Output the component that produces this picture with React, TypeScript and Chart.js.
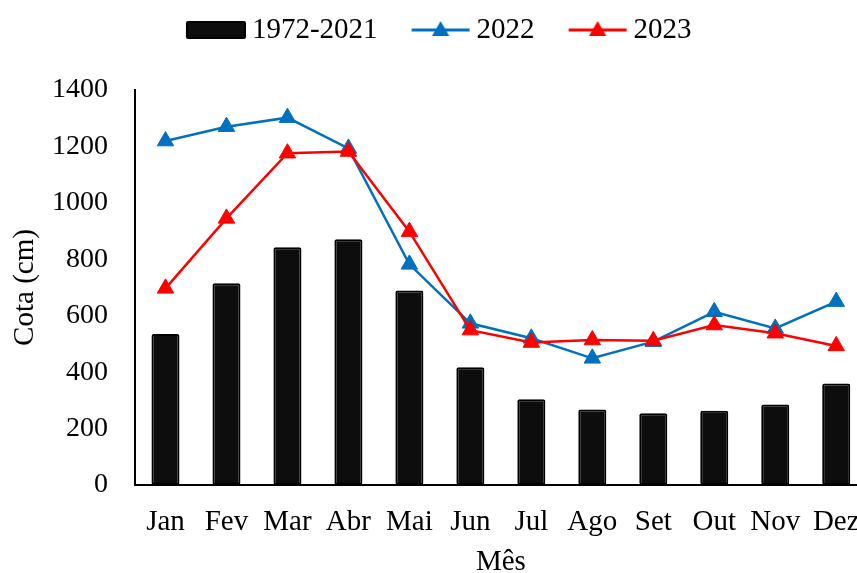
import React, { useEffect, useRef } from 'react';
import { Chart, registerables } from 'chart.js';

Chart.register(...registerables);

const months = ['Jan', 'Fev', 'Mar', 'Abr', 'Mai', 'Jun', 'Jul', 'Ago', 'Set', 'Out', 'Nov', 'Dez'];
const seriesLabels = ['1972-2021', '2022', '2023'];
const hist = [535, 715, 843, 871, 689, 417, 304, 268, 254, 263, 285, 360];
const y2022 = [1219, 1270, 1302, 1193, 782, 573, 520, 449, 508, 614, 555, 650];
const y2023 = [697, 945, 1176, 1182, 898, 549, 505, 514, 511, 567, 538, 493];
const yTicks = [0, 200, 400, 600, 800, 1000, 1200, 1400];

const BLUE = '#0070C0';
const RED = '#FF0000';
const BAR = '#0d0d0d';
const FONT = '"Liberation Serif", "Times New Roman", serif';

function legendImage(kind: 'bar' | 'line', color: string) {
  const c = document.createElement('canvas');
  c.width = 86;
  c.height = 26;
  const g = c.getContext('2d')!;
  const x0 = 26;
  if (kind === 'bar') {
    g.fillStyle = '#000';
    g.beginPath();
    (g as any).roundRect(x0, 4, 60, 18, 2);
    g.fill();
    g.fillStyle = BAR;
    g.fillRect(x0 + 2, 6, 56, 14);
  } else {
    g.strokeStyle = color;
    g.lineWidth = 3;
    g.beginPath();
    g.moveTo(x0 + 1, 13);
    g.lineTo(x0 + 59, 13);
    g.stroke();
    const cx = x0 + 30;
    const cy = 14;
    const r = 10;
    g.fillStyle = color;
    g.beginPath();
    g.moveTo(cx, cy - r);
    g.lineTo(cx + r * Math.sin((2 * Math.PI) / 3), cy - r * Math.cos((2 * Math.PI) / 3));
    g.lineTo(cx + r * Math.sin((4 * Math.PI) / 3), cy - r * Math.cos((4 * Math.PI) / 3));
    g.closePath();
    g.fill();
  }
  return c;
}

export default function App() {
  const ref = useRef<HTMLCanvasElement | null>(null);

  useEffect(() => {
    document.body.style.margin = '0';
    const canvas = ref.current!;
    const imgs = [legendImage('bar', BAR), legendImage('line', BLUE), legendImage('line', RED)];
    const chart = new Chart(canvas, {
      type: 'bar',
      data: {
        labels: months,
        datasets: [
          {
            type: 'bar',
            label: seriesLabels[0],
            data: hist,
            backgroundColor: BAR,
            borderColor: '#000',
            borderWidth: 2,
            borderRadius: 2,
            borderSkipped: false,
            barPercentage: 0.46,
            categoryPercentage: 1,
            order: 3,
          },
          {
            type: 'line',
            label: seriesLabels[1],
            data: y2022,
            borderColor: BLUE,
            backgroundColor: BLUE,
            borderWidth: 2.5,
            pointStyle: 'triangle',
            pointRadius: 9.5,
            pointBorderWidth: 1,
            pointBackgroundColor: BLUE,
            pointBorderColor: BLUE,
            tension: 0,
            order: 2,
          },
          {
            type: 'line',
            label: seriesLabels[2],
            data: y2023,
            borderColor: RED,
            backgroundColor: RED,
            borderWidth: 2.5,
            pointStyle: 'triangle',
            pointRadius: 9.5,
            pointBorderWidth: 1,
            pointBackgroundColor: RED,
            pointBorderColor: RED,
            tension: 0,
            order: 1,
          },
        ] as any,
      },
      options: {
        responsive: false,
        animation: false,
        events: [],
        layout: { padding: { top: 0, right: 10, left: -10, bottom: 0 } },
        plugins: {
          tooltip: { enabled: false },
          subtitle: {
            display: true,
            text: '',
            weight: 500,
            font: { size: 10 },
            padding: { top: 0, bottom: 23.5 },
          } as any,
          legend: {
            display: true,
            position: 'top',
            align: 'center',
            labels: {
              usePointStyle: true,
              pointStyleWidth: 69,
              padding: 15.5,
              color: '#000',
              font: { family: FONT, size: 29 },
              generateLabels: () =>
                seriesLabels.map((t, i) => ({
                  text: t,
                  pointStyle: imgs[i] as any,
                  fillStyle: 'transparent',
                  strokeStyle: 'transparent',
                  lineWidth: 0,
                  hidden: false,
                  datasetIndex: i,
                  fontColor: '#000',
                })),
            },
          },
        },
        scales: {
          x: {
            grid: { display: false, drawTicks: false },
            border: { display: true, color: '#000', width: 2 },
            ticks: {
              color: '#000',
              font: { family: FONT, size: 29 },
              padding: 20,
              maxRotation: 0,
              autoSkip: false,
            },
            title: {
              display: true,
              text: 'Mês',
              color: '#000',
              font: { family: FONT, size: 29 },
              padding: { top: 0, bottom: 0 },
            },
            afterFit: (s: any) => {
              s.height = 95;
            },
          },
          y: {
            min: 0,
            max: 1400,
            grid: { display: false, drawTicks: false },
            border: { display: true, color: '#000', width: 2 },
            ticks: {
              color: '#000',
              font: { family: FONT, size: 28 },
              padding: 27,
              callback: (v: any) => String(v),
            },
            afterBuildTicks: (s: any) => {
              s.ticks = yTicks.map((v) => ({ value: v }));
            },
            title: {
              display: true,
              text: 'Cota (cm)',
              color: '#000',
              font: { family: FONT, size: 29 },
              padding: { top: 18, bottom: 0 },
            },
            afterFit: (s: any) => {
              s.width = 145;
            },
          },
        },
      } as any,
    });
    return () => chart.destroy();
  }, []);

  return (
    <div style={{ width: 857, height: 573, overflow: 'hidden', position: 'relative' }}>
      <canvas ref={ref} width={880} height={580} style={{ display: 'block' }} />
    </div>
  );
}
